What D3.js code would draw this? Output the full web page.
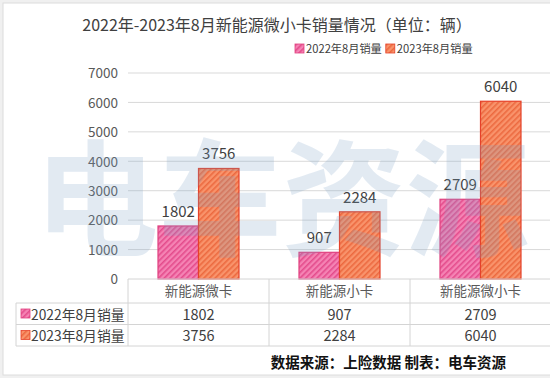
<!DOCTYPE html>
<html><head><meta charset="utf-8">
<script src="https://cdn.jsdelivr.net/npm/d3@7"></script>
<style>
html,body{margin:0;padding:0;background:#fff;}
svg{display:block;font-family:"Noto Sans CJK SC","Noto Sans",sans-serif;}
</style></head>
<body><svg id="c" width="550" height="378"></svg>
<script>
const title = "2022年-2023年8月新能源微小卡销量情况（单位：辆）";
const categories = ["新能源微卡","新能源小卡","新能源微小卡"];
const seriesNames = ["2022年8月销量","2023年8月销量"];
const sales2022 = [1802, 907, 2709];
const sales2023 = [3756, 2284, 6040];
const yTicks = [0,1000,2000,3000,4000,5000,6000,7000];
const footer = "数据来源：上险数据  制表：电车资源";

const seriesVals = [sales2022, sales2023];
const colors = [
  {base:"#f583b4", line:"#e44c8c", stroke:"#e0407f"},
  {base:"#f9936b", line:"#ec6a40", stroke:"#e5412a"}
];

const svg = d3.select("#c");
const defs = svg.append("defs");
colors.forEach((c,i)=>{
  const p = defs.append("pattern").attr("id","pat"+i).attr("patternUnits","userSpaceOnUse")
    .attr("width",4).attr("height",4).attr("patternTransform","rotate(45)");
  p.append("rect").attr("width",4).attr("height",4).attr("fill",c.base);
  p.append("rect").attr("width",1.6).attr("height",4).attr("fill",c.line);
});

// frame
svg.append("rect").attr("x",0).attr("y",0).attr("width",550).attr("height",378).attr("fill","#f0f0f0");
svg.append("rect").attr("x",3).attr("y",3).attr("width",560).attr("height",372).attr("fill","#fff").attr("stroke","#dcdcdc");

const left = 128, right = 551;
const y = d3.scaleLinear().domain([0,7000]).range([279,73]);
const x0 = d3.scaleBand().domain(categories).range([left,right]);
const x1 = d3.scaleBand().domain(seriesNames).range([30,111]);

// title
svg.append("text").attr("x",277).attr("y",31).attr("text-anchor","middle")
  .attr("font-size",16).attr("fill","#404040").text(title);

// legend
const lg = svg.append("g");
let lx = 295;
seriesNames.forEach((s,i)=>{
  lg.append("rect").attr("x",lx).attr("y",44).attr("width",9).attr("height",9)
    .attr("fill","url(#pat"+i+")").attr("stroke",colors[i].stroke).attr("stroke-width",0.8);
  const t = lg.append("text").attr("x",lx+11).attr("y",53).attr("font-size",11.2).attr("fill","#404040").text(s);
  lx += 11 + t.node().getComputedTextLength() + 4;
});

// grid + y labels
const yAxis = d3.axisLeft(y).tickValues(yTicks).tickSize(0).tickPadding(0).tickFormat(d3.format("d"));
const gy = svg.append("g").attr("transform","translate(118,0)").call(yAxis);
gy.select(".domain").remove();
gy.selectAll("text").attr("font-size",13.5).attr("fill","#595959")
  .attr("font-family","\"Noto Sans CJK SC\",sans-serif").attr("dy","0.35em");
svg.append("g").selectAll("line").data(yTicks.filter(d=>d>0)).join("line")
  .attr("x1",left).attr("x2",right).attr("y1",d=>y(d)).attr("y2",d=>y(d))
  .attr("stroke","#d9d9d9").attr("stroke-width",1);

// bars
const bars = svg.append("g");
seriesNames.forEach((s,i)=>{
  bars.selectAll(".b"+i).data(categories).join("rect")
    .attr("x",c=>x0(c)+x1(s)).attr("width",x1.bandwidth())
    .attr("y",(c,j)=>y(seriesVals[i][j])).attr("height",(c,j)=>y(0)-y(seriesVals[i][j]))
    .attr("fill","url(#pat"+i+")").attr("stroke",colors[i].stroke).attr("stroke-width",1.2);
  bars.selectAll(".l"+i).data(categories).join("text")
    .attr("x",c=>x0(c)+x1(s)+x1.bandwidth()/2).attr("y",(c,j)=>y(seriesVals[i][j])-9)
    .attr("text-anchor","middle").attr("font-size",15).attr("fill","#404040")
    .text((c,j)=>seriesVals[i][j]);
});

// watermark (logo)
svg.append("text").attr("x",282).attr("y",246).attr("text-anchor","middle")
  .attr("font-size",126).attr("font-weight",700).attr("fill","#7da3c9").attr("opacity",0.22)
  .attr("textLength",495).attr("lengthAdjust","spacingAndGlyphs").text("电车资源");

// table
const tb = svg.append("g");
const rowY = [279,303,324.5,346];
const tc = "#d4d4d4";
tb.append("line").attr("x1",left).attr("x2",right).attr("y1",rowY[0]).attr("y2",rowY[0]).attr("stroke",tc);
[1,2,3].forEach(k=>tb.append("line").attr("x1",16).attr("x2",right).attr("y1",rowY[k]).attr("y2",rowY[k]).attr("stroke",tc));
tb.append("line").attr("x1",16).attr("x2",16).attr("y1",rowY[1]).attr("y2",rowY[3]).attr("stroke",tc);
categories.forEach(c=>{
  tb.append("line").attr("x1",x0(c)).attr("x2",x0(c)).attr("y1",rowY[0]).attr("y2",rowY[3]).attr("stroke",tc);
  tb.append("text").attr("x",x0(c)+x0.bandwidth()/2).attr("y",rowY[0]+17).attr("text-anchor","middle")
    .attr("font-size",13.5).attr("fill","#595959").text(c);
});
seriesNames.forEach((s,i)=>{
  const ry = rowY[i+1];
  tb.append("rect").attr("x",21).attr("y",ry+6).attr("width",9).attr("height",9)
    .attr("fill","url(#pat"+i+")").attr("stroke",colors[i].stroke).attr("stroke-width",0.8);
  tb.append("text").attr("x",31).attr("y",ry+16.5).attr("font-size",13.8).attr("fill","#404040").text(s);
  categories.forEach((c,j)=>{
    tb.append("text").attr("x",x0(c)+x0.bandwidth()/2).attr("y",ry+16.5).attr("text-anchor","middle")
      .attr("font-size",14.5).attr("fill","#404040").text(seriesVals[i][j]);
  });
});

// footer
svg.append("text").attr("x",506).attr("y",368).attr("text-anchor","end")
  .attr("font-size",14.5).attr("font-weight",700).attr("fill","#111").text(footer);
</script></body></html>
